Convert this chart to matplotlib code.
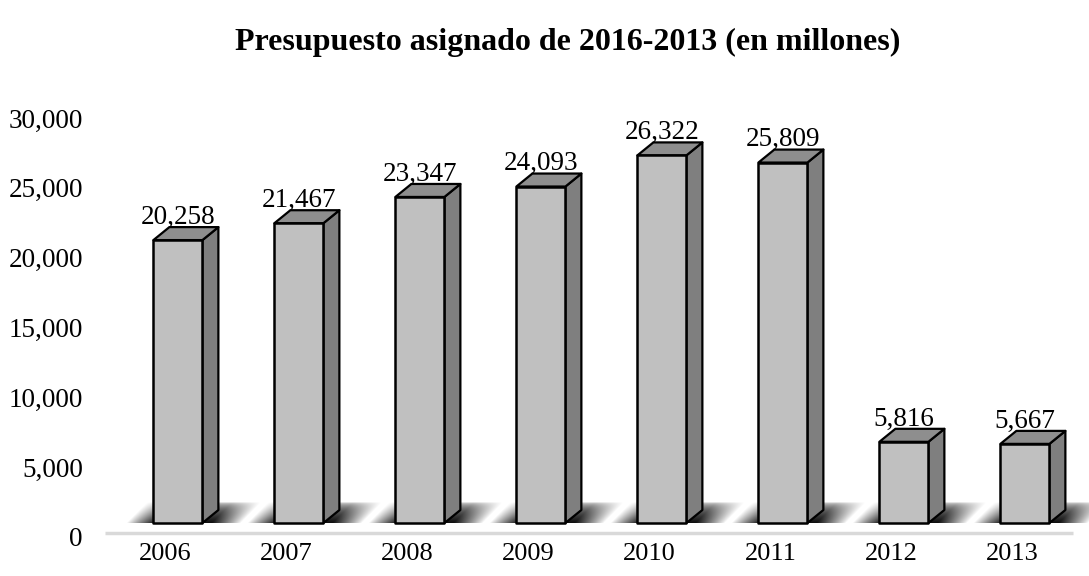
import matplotlib.pyplot as plt
import numpy as np
from matplotlib.patches import Polygon

years = ["2006", "2007", "2008", "2009", "2010", "2011", "2012", "2013"]
budget = [20258, 21467, 23347, 24093, 26322, 25809, 5816, 5667]
y_ticks = [0, 5000, 10000, 15000, 20000, 25000, 30000]

plt.rcParams["font.family"] = ["Liberation Serif", "DejaVu Serif"]

fig = plt.figure(figsize=(10.89, 5.76), dpi=100)
ax = fig.add_axes([105 / 1089, 39 / 576, 968 / 1089, 419 / 576])
ax.set_xlim(-0.5, len(years) - 0.5)
ax.set_ylim(0, 30000)

# 3D look parameters (data units)
base = 1000      # floor height of the bar fronts
left = -0.10     # front face offset from category centre
width = 0.405
dx = 0.132       # depth, x
dy = 930         # depth, y

front_c = "#c0c0c0"
side_c = "#7f7f7f"
top_c = "#8e8e8e"

# gray base line
ax.plot([-0.5, len(years) - 0.5], [300, 300], color="#d9d9d9", lw=2.5,
        clip_on=False, zorder=1, solid_capstyle="butt")

for i, v in enumerate(budget):
    x0 = i + left
    x1 = x0 + width
    y0 = base
    y1 = base + v

    # soft floor shadow (slanted parallelogram, fading outward and upward)
    slant = 0.17
    sh_h = 1500
    sh_x0, sh_x1 = x0 - 0.24, x1 + dx + 0.2
    nx, ny = 300, 60
    xs = np.linspace(sh_x0, sh_x1 + slant, nx)
    ys = np.linspace(0, 1, ny)
    X, Y = np.meshgrid(xs, ys)
    U = X - slant * Y
    foot_l, foot_r = x0 + 0.02, x1 + 0.08
    d = np.maximum(np.maximum(foot_l - U, U - foot_r), 0)
    hfade = np.clip(1 - d / 0.24, 0, 1) ** 0.9
    vfade = (1 - Y) ** 0.45
    alpha = 0.95 * hfade * vfade
    img = np.zeros((ny, nx, 4))
    img[..., 3] = alpha
    ax.imshow(img, extent=[sh_x0, sh_x1 + slant, y0, y0 + sh_h],
              origin="lower", aspect="auto", zorder=2, clip_on=False,
              interpolation="bilinear")

    # side face
    ax.add_patch(Polygon([(x1, y0), (x1 + dx, y0 + dy), (x1 + dx, y1 + dy), (x1, y1)],
                         closed=True, facecolor=side_c, edgecolor="black", lw=1.6,
                         joinstyle="round", zorder=3, clip_on=False))
    # top face
    ax.add_patch(Polygon([(x0, y1), (x1, y1), (x1 + dx, y1 + dy), (x0 + dx, y1 + dy)],
                         closed=True, facecolor=top_c, edgecolor="black", lw=1.6,
                         joinstyle="round", zorder=3, clip_on=False))
    # front face
    ax.add_patch(Polygon([(x0, y0), (x1, y0), (x1, y1), (x0, y1)],
                         closed=True, facecolor=front_c, edgecolor="black", lw=1.8,
                         joinstyle="round", zorder=4, clip_on=False))

    ax.text((x0 + x1) / 2, y1 + dy - 200, f"{v:,}", ha="center", va="bottom",
            fontsize=19.5, color="black", zorder=5)

ax.set_xlim(-0.5, len(years) - 0.5)
ax.set_ylim(0, 30000)
ax.set_xticks(range(len(years)))
ax.set_xticklabels(years, fontsize=19)
ax.set_yticks(y_ticks)
ax.set_yticklabels([f"{t:,}" for t in y_ticks], fontsize=19.5)
ax.tick_params(axis="both", length=0)
ax.tick_params(axis="y", pad=16)
ax.tick_params(axis="x", pad=4)
for s in ax.spines.values():
    s.set_visible(False)

fig.text(568 / 1089, 1 - 42 / 576, "Presupuesto asignado de 2016-2013 (en millones)",
         ha="center", va="center", fontsize=23, fontweight="bold")

fig.savefig("out.png", dpi=100)
